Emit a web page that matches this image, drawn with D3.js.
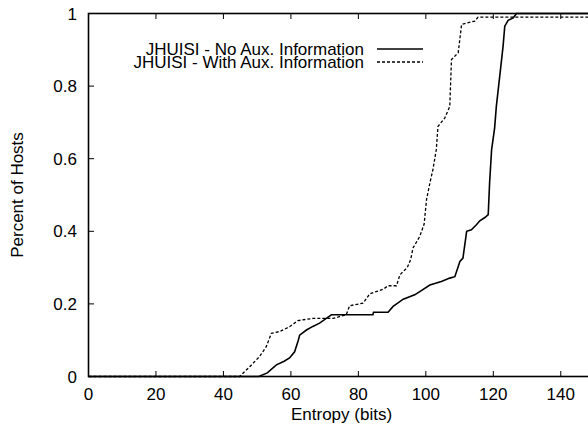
<!DOCTYPE html>
<html>
<head>
<meta charset="utf-8">
<script src="https://cdn.jsdelivr.net/npm/d3@7"></script>
<style>
  body { margin: 0; background: #fff; }
  text { font-family: "Liberation Sans", Arial, sans-serif; fill: #000; }
</style>
</head>
<body>
<script>
// entropy (bits) vs. fraction of hosts
var noAuxX = [0, 50.5, 53, 55.7, 58, 59.6, 61.1, 62.2, 62.6, 64.6, 66.5, 68.5, 70.5, 72, 84.3, 84.5, 88.8, 90.3, 93.3, 96.7, 98.2, 101.2, 104.6, 107.1, 108.6, 110.1, 111, 112.1, 113.5, 115, 116, 117.5, 118.5, 118.9, 119.5, 120.4, 120.9, 121.9, 122.9, 123.4, 124.4, 125.9, 126.9, 150];
var noAuxY = [0, 0, 0.01, 0.032, 0.042, 0.051, 0.068, 0.1, 0.114, 0.128, 0.138, 0.147, 0.16, 0.17, 0.17, 0.177, 0.177, 0.193, 0.213, 0.225, 0.234, 0.252, 0.262, 0.271, 0.275, 0.317, 0.326, 0.4, 0.404, 0.418, 0.429, 0.438, 0.446, 0.533, 0.625, 0.685, 0.744, 0.827, 0.91, 0.965, 0.981, 0.988, 1, 1];

var auxX = [0, 44.8, 47.8, 50.7, 52.7, 54.2, 56.7, 59.6, 62.1, 66.5, 72.5, 76.4, 77.4, 81.4, 83.4, 87.3, 88.8, 91.3, 92.3, 94.5, 95.5, 96.2, 98.2, 99.5, 100.2, 101.2, 102.1, 103.1, 103.6, 105.6, 107.1, 107.6, 109.6, 110.6, 114.5, 115.5, 150];
var auxY = [0, 0, 0.027, 0.055, 0.082, 0.119, 0.124, 0.137, 0.154, 0.16, 0.16, 0.17, 0.195, 0.202, 0.228, 0.24, 0.25, 0.25, 0.28, 0.3, 0.322, 0.354, 0.386, 0.42, 0.487, 0.533, 0.57, 0.625, 0.689, 0.712, 0.744, 0.873, 0.892, 0.97, 0.979, 0.99, 0.99];

var xTicks = [0, 20, 40, 60, 80, 100, 120, 140];
var yTicks = [0, 0.2, 0.4, 0.6, 0.8, 1];
var seriesNames = ["JHUISI - No Aux. Information", "JHUISI - With Aux. Information"];

var width = 588, height = 432;
var pL = 88.5, pT = 13.5, pR = 594.5, pB = 376.5;

var svg = d3.select("body").append("svg")
    .attr("width", width)
    .attr("height", height);

var x = d3.scaleLinear().domain([0, 150]).range([pL, pR]);
var y = d3.scaleLinear().domain([0, 1]).range([pB, pT]);

var fs = "17px";

// ticks, pointing inward on all four sides
var tk = 5.5;
var g = svg.append("g").attr("stroke", "#000").attr("stroke-width", 1);
xTicks.forEach(function(t) {
    g.append("line").attr("x1", x(t)).attr("x2", x(t)).attr("y1", pB).attr("y2", pB - tk);
    g.append("line").attr("x1", x(t)).attr("x2", x(t)).attr("y1", pT).attr("y2", pT + tk);
});
yTicks.forEach(function(t) {
    g.append("line").attr("x1", pL).attr("x2", pL + tk).attr("y1", y(t)).attr("y2", y(t));
    g.append("line").attr("x1", pR).attr("x2", pR - tk).attr("y1", y(t)).attr("y2", y(t));
});

svg.selectAll(".xl").data(xTicks).join("text")
    .attr("x", d => x(d)).attr("y", 400)
    .attr("text-anchor", "middle").style("font-size", fs)
    .text(d => d);

svg.selectAll(".yl").data(yTicks).join("text")
    .attr("x", 77).attr("y", d => y(d) + 6)
    .attr("text-anchor", "end").style("font-size", fs)
    .text(d => d);

svg.append("text")
    .attr("x", (pL + pR) / 2).attr("y", 420)
    .attr("text-anchor", "middle").style("font-size", fs)
    .text("Entropy (bits)");

svg.append("text")
    .attr("transform", "translate(23," + ((pT + pB) / 2) + ") rotate(-90)")
    .attr("text-anchor", "middle").style("font-size", fs)
    .text("Percent of Hosts");

// the curves
var line = d3.line().x(d => x(d[0])).y(d => y(d[1]));
var noAux = noAuxX.map((v, i) => [v, noAuxY[i]]);
var aux = auxX.map((v, i) => [v, auxY[i]]);

svg.append("path").datum(aux)
    .attr("fill", "none").attr("stroke", "#000").attr("stroke-width", 1.3)
    .attr("stroke-dasharray", "3,2")
    .attr("d", line);
svg.append("path").datum(noAux)
    .attr("fill", "none").attr("stroke", "#000").attr("stroke-width", 1.6)
    .attr("d", line);

// frame
svg.append("rect")
    .attr("x", pL).attr("y", pT)
    .attr("width", pR - pL).attr("height", pB - pT)
    .attr("fill", "none").attr("stroke", "#000").attr("stroke-width", 1.6);

// legend
var legY = [55, 68];
seriesNames.forEach(function(name, i) {
    svg.append("text")
        .attr("x", 364).attr("y", legY[i])
        .attr("text-anchor", "end").style("font-size", fs)
        .text(name);
    svg.append("line")
        .attr("x1", 377).attr("x2", 423)
        .attr("y1", legY[i] - 6).attr("y2", legY[i] - 6)
        .attr("stroke", "#000")
        .attr("stroke-width", i == 0 ? 1.6 : 1.3)
        .attr("stroke-dasharray", i == 0 ? null : "3,2");
});
</script>
</body>
</html>
